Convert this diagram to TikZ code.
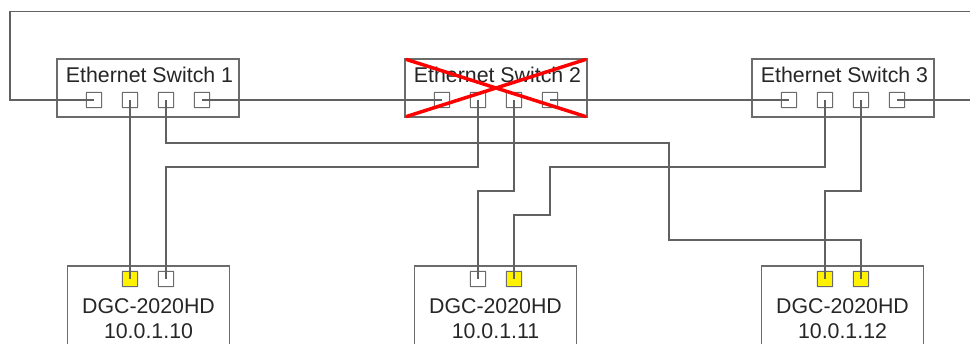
\documentclass[tikz,border=0pt]{standalone}
\usepackage{fontspec}
\setmainfont{Liberation Sans}
\definecolor{wire}{gray}{0.38}
\definecolor{boxline}{gray}{0.42}
\tikzset{
  switchbox/.style={draw=boxline,line width=0.8pt,minimum width=136.5pt,minimum height=43.5pt,inner sep=0pt},
  dgcbox/.style={draw=boxline,line width=0.8pt,minimum width=121.5pt,minimum height=75pt,inner sep=0pt},
  port/.style={draw=boxline,line width=0.85pt,minimum size=11.5pt,inner sep=0pt,rounded corners=0.4pt},
  activeport/.style={port,fill=yellow},
  caption/.style={inner sep=0pt,font=\fontsize{16pt}{19pt}\selectfont,text=black!85},
  wireline/.style={draw=wire,line width=0.8pt},
  crossout/.style={draw=red,line width=2.6pt,line cap=round}
}
\begin{document}
\begin{tikzpicture}[x=0.75pt,y=-0.75pt]
\clip (0,0) rectangle (970,343);
% switches
\node[switchbox] (sw1) at (148,88) {};
\node[switchbox] (sw2) at (496,88) {};
\node[switchbox] (sw3) at (843,88) {};
\node[caption] (sw1t) at (149.5,75) {Ethernet Switch 1};
\node[caption] (sw2t) at (497.5,75) {Ethernet Switch 2};
\node[caption] (sw3t) at (844.5,75) {Ethernet Switch 3};
\foreach \s/\o in {1/94,2/442,3/789}{
  \foreach \p in {1,2,3,4}{
    \node[port] (s\s p\p) at ({\o+36*(\p-1)},100) {};
  }
}
% controllers
\node[dgcbox] (d1) at (148.5,316) {};
\node[dgcbox] (d2) at (495.5,316) {};
\node[dgcbox] (d3) at (842.5,316) {};
\node[caption] (d1a) at (148.5,306) {DGC-2020HD};
\node[caption] (d2a) at (495.5,306) {DGC-2020HD};
\node[caption] (d3a) at (842.5,306) {DGC-2020HD};
\node[caption] (d1b) at (148.5,331) {10.0.1.10};
\node[caption] (d2b) at (495.5,331) {10.0.1.11};
\node[caption] (d3b) at (842.5,331) {10.0.1.12};
\node[activeport] (d1p1) at (130,279) {};
\node[port] (d1p2) at (166,279) {};
\node[port] (d2p1) at (478,279) {};
\node[activeport] (d2p2) at (514,279) {};
\node[activeport] (d3p1) at (825,279) {};
\node[activeport] (d3p2) at (861,279) {};
% free ends of the ring
\coordinate (ringleft) at (970,11.5);
\coordinate (ringright) at (971,100);
% ring
\draw[wireline] (s1p1.center) -- (10,100) -- (10,11.5) -- (ringleft);
\draw[wireline] (s1p4.center) -- (s2p1.center);
\draw[wireline] (s2p4.center) -- (s3p1.center);
\draw[wireline] (s3p4.center) -- (ringright);
% drops
\draw[wireline] (s1p2.center) -- (d1p1.center);
\draw[wireline] (s1p3.center) |- (669,143) |- (861,240) -- (d3p2.center);
\draw[wireline] (s2p2.center) |- (166,167) -- (d1p2.center);
\draw[wireline] (s2p3.center) |- (478,191) -- (d2p1.center);
\draw[wireline] (s3p2.center) |- (550,167) |- (514,215) -- (d2p2.center);
\draw[wireline] (s3p3.center) |- (825,191) -- (d3p1.center);
% failed switch
\draw[crossout] (406.5,59.5) -- (585.5,116.5);
\draw[crossout] (406.5,116.5) -- (585.5,59.5);
\end{tikzpicture}
\end{document}
